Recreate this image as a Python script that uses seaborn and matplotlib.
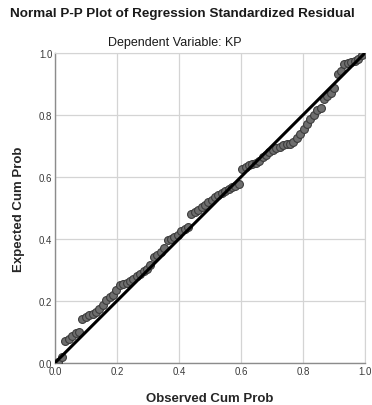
import seaborn as sns
from matplotlib import pyplot as plt
import pandas as pd

# Observed vs expected cumulative probabilities
observed = [0.011, 0.022, 0.033, 0.044, 0.055, 0.066, 0.077, 0.088, 0.099, 0.110,
            0.121, 0.132, 0.143, 0.154, 0.165, 0.176, 0.187, 0.198, 0.209, 0.220,
            0.231, 0.242, 0.253, 0.264, 0.275, 0.286, 0.297, 0.308, 0.319, 0.330,
            0.341, 0.352, 0.363, 0.374, 0.385, 0.396, 0.407, 0.418, 0.429, 0.440,
            0.451, 0.462, 0.473, 0.484, 0.495, 0.505, 0.516, 0.527, 0.538, 0.549,
            0.560, 0.571, 0.582, 0.593, 0.604, 0.615, 0.626, 0.637, 0.648, 0.659,
            0.670, 0.681, 0.692, 0.703, 0.714, 0.725, 0.736, 0.747, 0.758, 0.769,
            0.780, 0.791, 0.802, 0.813, 0.824, 0.835, 0.846, 0.857, 0.868, 0.879,
            0.890, 0.901, 0.912, 0.923, 0.934, 0.945, 0.956, 0.967, 0.978, 0.989]
expected = [0.004, 0.018, 0.070, 0.078, 0.088, 0.096, 0.100, 0.142, 0.148, 0.153,
            0.158, 0.163, 0.172, 0.186, 0.203, 0.212, 0.220, 0.236, 0.250, 0.253,
            0.256, 0.264, 0.272, 0.280, 0.287, 0.295, 0.304, 0.315, 0.340, 0.348,
            0.358, 0.370, 0.395, 0.400, 0.406, 0.414, 0.425, 0.432, 0.438, 0.480,
            0.487, 0.493, 0.502, 0.508, 0.518, 0.527, 0.536, 0.543, 0.549, 0.554,
            0.560, 0.566, 0.571, 0.578, 0.626, 0.632, 0.637, 0.641, 0.645, 0.652,
            0.663, 0.672, 0.680, 0.687, 0.693, 0.698, 0.703, 0.706, 0.707, 0.712,
            0.724, 0.738, 0.755, 0.772, 0.788, 0.800, 0.815, 0.824, 0.853, 0.862,
            0.872, 0.888, 0.933, 0.942, 0.965, 0.968, 0.971, 0.974, 0.980, 0.994]
ref_line = [0.0, 1.0]
ticks = [0.0, 0.2, 0.4, 0.6, 0.8, 1.0]

df = pd.DataFrame({"observed": observed, "expected": expected})

sns.set_style("whitegrid", {"grid.color": "#d4d4d4", "axes.edgecolor": "#8c8c8c"})
plt.rcParams['font.family'] = ['Liberation Sans', 'DejaVu Sans']

fig = plt.figure(figsize=(3.72, 4.06), dpi=100)
ax = fig.add_axes([0.148, 0.104, 0.833, 0.763])

sns.scatterplot(data=df, x="observed", y="expected", ax=ax, s=32,
                color="#6e6e6e", edgecolor="#3c3c3c", linewidth=0.8, zorder=3)
sns.lineplot(x=ref_line, y=ref_line, ax=ax, color="black", linewidth=2.2, zorder=4)

ax.set_xlim(0, 1)
ax.set_ylim(0, 1)
ax.set_xticks(ticks)
ax.set_yticks(ticks)
ax.set_xticklabels([f"{t:.1f}" for t in ticks])
ax.set_yticklabels([f"{t:.1f}" for t in ticks])
ax.tick_params(labelsize=7, colors="#3a3a3a", length=0, pad=2)
ax.grid(True, linewidth=0.9)
ax.spines["top"].set_color("#d4d4d4")
ax.spines["right"].set_color("#d4d4d4")
ax.spines["left"].set_linewidth(1.0)
ax.spines["bottom"].set_linewidth(1.0)

ax.set_xlabel("Observed Cum Prob", fontsize=9.5, fontweight="bold", labelpad=12)
ax.set_ylabel("Expected Cum Prob", fontsize=9.5, fontweight="bold", labelpad=10)

fig.text(0.49, 0.965, "Normal P-P Plot of Regression Standardized Residual",
         ha="center", va="center", fontsize=9.7, fontweight="bold", color="#1a1a1a")
fig.text(0.47, 0.895, "Dependent Variable: KP",
         ha="center", va="center", fontsize=9, color="#1a1a1a")

fig.savefig("out.png", dpi=100)
